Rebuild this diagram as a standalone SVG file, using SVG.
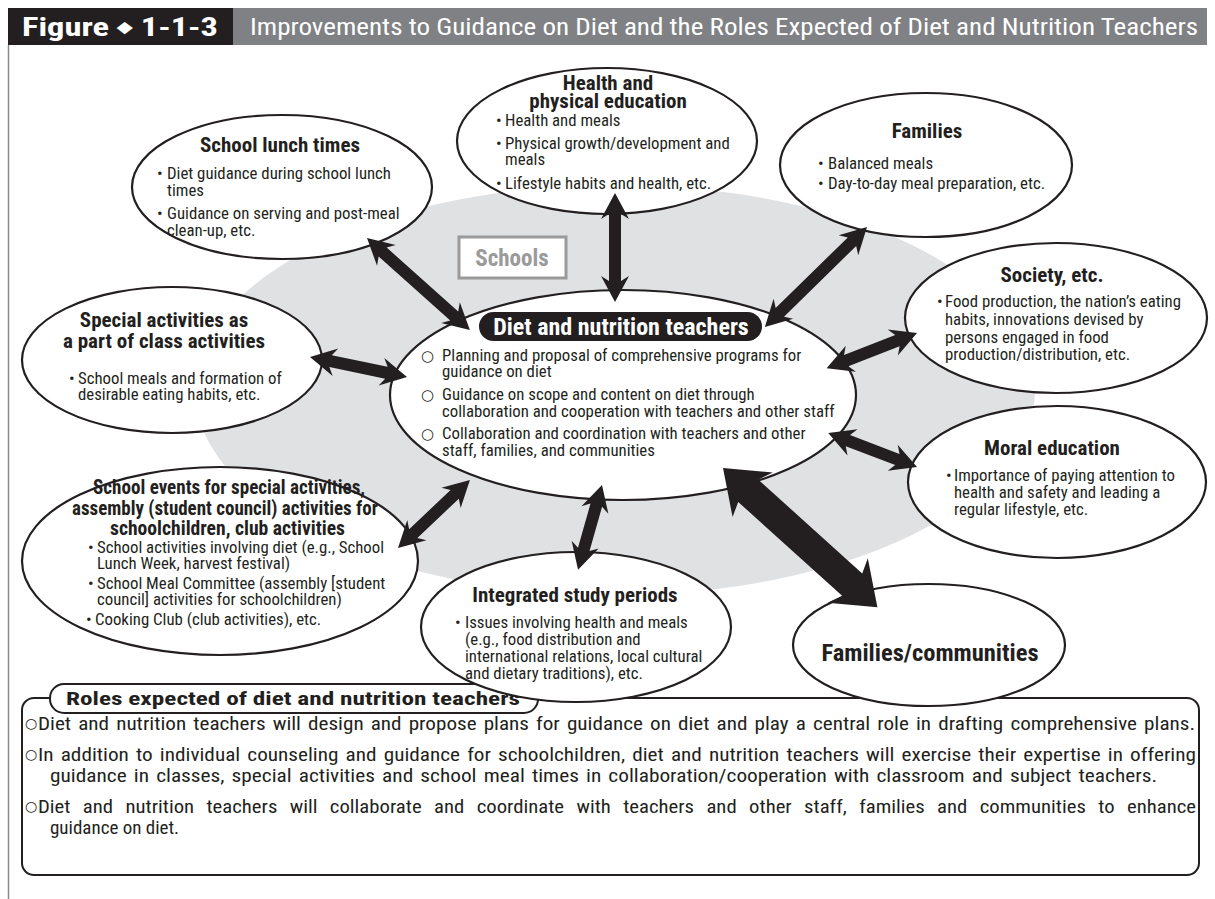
<svg xmlns="http://www.w3.org/2000/svg" width="1215" height="899" viewBox="0 0 1215 899">
<style>
.t{font-family:"Roboto Condensed","Liberation Sans Narrow","Liberation Sans",Arial,sans-serif;fill:#231f20}
.b{font-size:16.8px}
.h{font-size:21px;font-weight:bold}
.c{text-anchor:middle}
.el{fill:#fff;stroke:#231f20;stroke-width:2.2}
.o{font-family:"DejaVu Sans",sans-serif;font-size:15px;fill:#231f20}
.r{font-size:19px}
.arr polygon{fill:#231f20}
</style>
<rect width="1215" height="899" fill="#fff"/>
<g id="header">
<rect x="8" y="8" width="225" height="37" fill="#231f20"/>
<rect x="233" y="8" width="974" height="37" fill="#808184"/>
<text class="t" x="22" y="36" textLength="196" lengthAdjust="spacingAndGlyphs" style="font-size:26px;font-weight:bold;fill:#fff">Figure <tspan style="font-size:15px" dy="-4">◆</tspan><tspan dy="4"> 1-1-3</tspan></text>
<text class="t" x="250" y="35" textLength="948" lengthAdjust="spacingAndGlyphs" style="font-size:23px;fill:#fff">Improvements to Guidance on Diet and the Roles Expected of Diet and Nutrition Teachers</text>
<line x1="8.5" y1="45" x2="8.5" y2="899" stroke="#8a8a8a" stroke-width="1.5"/>
</g>
<g id="schools">
<ellipse cx="615" cy="390" rx="420" ry="205" fill="#e0e1e3"/>
<rect x="459" y="237" width="107" height="41" fill="#fff" stroke="#9a9a9a" stroke-width="3"/>
<text class="t c" x="512" y="266" style="font-size:23px;font-weight:bold;fill:#9a9a9a">Schools</text>
</g>
<g id="roles">
<rect x="22" y="698" width="1177" height="177" rx="12" fill="#fff" stroke="#231f20" stroke-width="2"/>
<rect x="50" y="684" width="488" height="29" rx="14" fill="#fff" stroke="#231f20" stroke-width="2"/>
<text class="t" x="66" y="705" textLength="454" lengthAdjust="spacingAndGlyphs" style="font-size:18.5px;font-weight:bold">Roles expected of diet and nutrition teachers</text>
<text class="o" x="25" y="728" style="font-size:14px">○</text>
<text class="t r" x="38" y="730" textLength="1157" lengthAdjust="spacingAndGlyphs" style="word-spacing:2px">Diet and nutrition teachers will design and propose plans for guidance on diet and play a central role in drafting comprehensive plans.</text>
<text class="o" x="25" y="759" style="font-size:14px">○</text>
<text class="t r" x="38" y="761" textLength="1158" lengthAdjust="spacingAndGlyphs" style="word-spacing:2px">In addition to individual counseling and guidance for schoolchildren, diet and nutrition teachers will exercise their expertise in offering</text>
<text class="t r" x="50" y="782" textLength="1107" lengthAdjust="spacingAndGlyphs" style="word-spacing:2px">guidance in classes, special activities and school meal times in collaboration/cooperation with classroom and subject teachers.</text>
<text class="o" x="25" y="811" style="font-size:14px">○</text>
<text class="t r" x="38" y="813" textLength="1158" lengthAdjust="spacingAndGlyphs" style="word-spacing:7px">Diet and nutrition teachers will collaborate and coordinate with teachers and other staff, families and communities to enhance</text>
<text class="t r" x="50" y="834">guidance on diet.</text>
</g>
<g id="lunch">
<ellipse class="el" cx="282" cy="187" rx="150" ry="72"/>
<text class="t h c" x="280" y="152">School lunch times</text>
<text class="t b" x="157" y="179">•</text><text class="t b" x="167" y="179">Diet guidance during school lunch</text>
<text class="t b" x="167" y="196">times</text>
<text class="t b" x="157" y="219">•</text><text class="t b" x="167" y="219">Guidance on serving and post-meal</text>
<text class="t b" x="167" y="236">clean-up, etc.</text>
</g>
<g id="health">
<ellipse class="el" cx="607" cy="141" rx="150" ry="73"/>
<text class="t h c" x="608" y="90">Health and</text>
<text class="t h c" x="608" y="108">physical education</text>
<text class="t b" x="496" y="126">•</text><text class="t b" x="505" y="126">Health and meals</text>
<text class="t b" x="496" y="149">•</text><text class="t b" x="505" y="149">Physical growth/development and</text>
<text class="t b" x="505" y="165">meals</text>
<text class="t b" x="496" y="189">•</text><text class="t b" x="505" y="189">Lifestyle habits and health, etc.</text>
</g>
<g id="families">
<ellipse class="el" cx="926" cy="165" rx="146" ry="72"/>
<text class="t h c" x="927" y="138">Families</text>
<text class="t b" x="818" y="169">•</text><text class="t b" x="828" y="169">Balanced meals</text>
<text class="t b" x="818" y="189">•</text><text class="t b" x="828" y="189">Day-to-day meal preparation, etc.</text>
</g>
<g id="society">
<ellipse class="el" cx="1056" cy="318" rx="151" ry="75"/>
<text class="t h c" x="1052" y="282">Society, etc.</text>
<text class="t b" x="937" y="307">•</text><text class="t b" x="945" y="307">Food production, the nation’s eating</text>
<text class="t b" x="945" y="325">habits, innovations devised by</text>
<text class="t b" x="945" y="343">persons engaged in food</text>
<text class="t b" x="945" y="360">production/distribution, etc.</text>
</g>
<g id="moral">
<ellipse class="el" cx="1057" cy="482" rx="149" ry="76"/>
<text class="t h c" x="1052" y="455">Moral education</text>
<text class="t b" x="946" y="481">•</text><text class="t b" x="954" y="481">Importance of paying attention to</text>
<text class="t b" x="954" y="498">health and safety and leading a</text>
<text class="t b" x="954" y="515">regular lifestyle, etc.</text>
</g>
<g id="famcomm">
<ellipse class="el" cx="929" cy="645" rx="136" ry="61"/>
<text class="t c" x="930" y="661" style="font-size:24.5px;font-weight:bold">Families/communities</text>
</g>
<g id="special">
<ellipse class="el" cx="172" cy="360" rx="150" ry="73"/>
<text class="t h c" x="164" y="327">Special activities as</text>
<text class="t h c" x="164" y="348">a part of class activities</text>
<text class="t b" x="69" y="384">•</text><text class="t b" x="78" y="384">School meals and formation of</text>
<text class="t b" x="78" y="400">desirable eating habits, etc.</text>
</g>
<g id="events">
<ellipse class="el" cx="220" cy="561" rx="198" ry="94"/>
<text class="t h" x="93" y="494" textLength="272" lengthAdjust="spacingAndGlyphs">School events for special activities,</text>
<text class="t h" x="72" y="515" textLength="306" lengthAdjust="spacingAndGlyphs">assembly (student council) activities for</text>
<text class="t h" x="110" y="535" textLength="235" lengthAdjust="spacingAndGlyphs">schoolchildren, club activities</text>
<text class="t b" x="88" y="553">•</text><text class="t b" x="97" y="553">School activities involving diet (e.g., School</text>
<text class="t b" x="97" y="569">Lunch Week, harvest festival)</text>
<text class="t b" x="88" y="589">•</text><text class="t b" x="97" y="589">School Meal Committee (assembly [student</text>
<text class="t b" x="97" y="605">council] activities for schoolchildren)</text>
<text class="t b" x="86" y="625">•</text><text class="t b" x="95" y="625">Cooking Club (club activities), etc.</text>
</g>
<g id="integrated">
<ellipse class="el" cx="576" cy="627" rx="155" ry="75"/>
<text class="t h c" x="575" y="602">Integrated study periods</text>
<text class="t b" x="455" y="628">•</text><text class="t b" x="465" y="628">Issues involving health and meals</text>
<text class="t b" x="465" y="645">(e.g., food distribution and</text>
<text class="t b" x="465" y="662">international relations, local cultural</text>
<text class="t b" x="465" y="679">and dietary traditions), etc.</text>
</g>
<g id="center">
<ellipse class="el" cx="623" cy="395" rx="233" ry="105"/>
<rect x="479" y="312" width="283" height="29" rx="14.5" fill="#231f20"/>
<text class="t c" x="621" y="335" style="font-size:24px;font-weight:bold;fill:#fff">Diet and nutrition teachers</text>
<text class="o" x="421" y="361">○</text><text class="t b" x="442" y="361">Planning and proposal of comprehensive programs for</text>
<text class="t b" x="442" y="377">guidance on diet</text>
<text class="o" x="421" y="400">○</text><text class="t b" x="442" y="400">Guidance on scope and content on diet through</text>
<text class="t b" x="442" y="417">collaboration and cooperation with teachers and other staff</text>
<text class="o" x="421" y="439">○</text><text class="t b" x="442" y="439">Collaboration and coordination with teachers and other</text>
<text class="t b" x="442" y="456">staff, families, and communities</text>
</g>
<g id="connectors" class="arr">
<polygon transform="translate(367,238) rotate(41.8)" points="0,0 26,-14 21,-6 117,-6 112,-14 138,0 112,14 117,6 21,6 26,14"/>
<polygon transform="translate(615,193) rotate(90)" points="0,0 26,-14 21,-6 88,-6 83,-14 109,0 83,14 88,6 21,6 26,14"/>
<polygon transform="translate(867,227) rotate(135.6)" points="0,0 26,-14 21,-6 122,-6 117,-14 143,0 117,14 122,6 21,6 26,14"/>
<polygon transform="translate(310,357) rotate(11.65)" points="0,0 26,-14 21,-6 78,-6 73,-14 99,0 73,14 78,6 21,6 26,14"/>
<polygon transform="translate(917,333) rotate(158.7)" points="0,0 26,-14 21,-6 76,-6 71,-14 97,0 71,14 76,6 21,6 26,14"/>
<polygon transform="translate(917,467) rotate(-159.1)" points="0,0 26,-14 21,-6 74,-6 69,-14 95,0 69,14 74,6 21,6 26,14"/>
<polygon transform="translate(398,548) rotate(-43.4)" points="0,0 26,-14 21,-6 78,-6 73,-14 99,0 73,14 78,6 21,6 26,14"/>
<polygon transform="translate(602,485) rotate(105.8)" points="0,0 26,-14 21,-6 67,-6 62,-14 88,0 62,14 67,6 21,6 26,14"/>
<polygon transform="translate(723,468) rotate(42.07)" points="0,0 40,-30 34,-15 174,-15 168,-30 208,0 168,30 174,15 34,15 40,30"/>
</g>
</svg>
